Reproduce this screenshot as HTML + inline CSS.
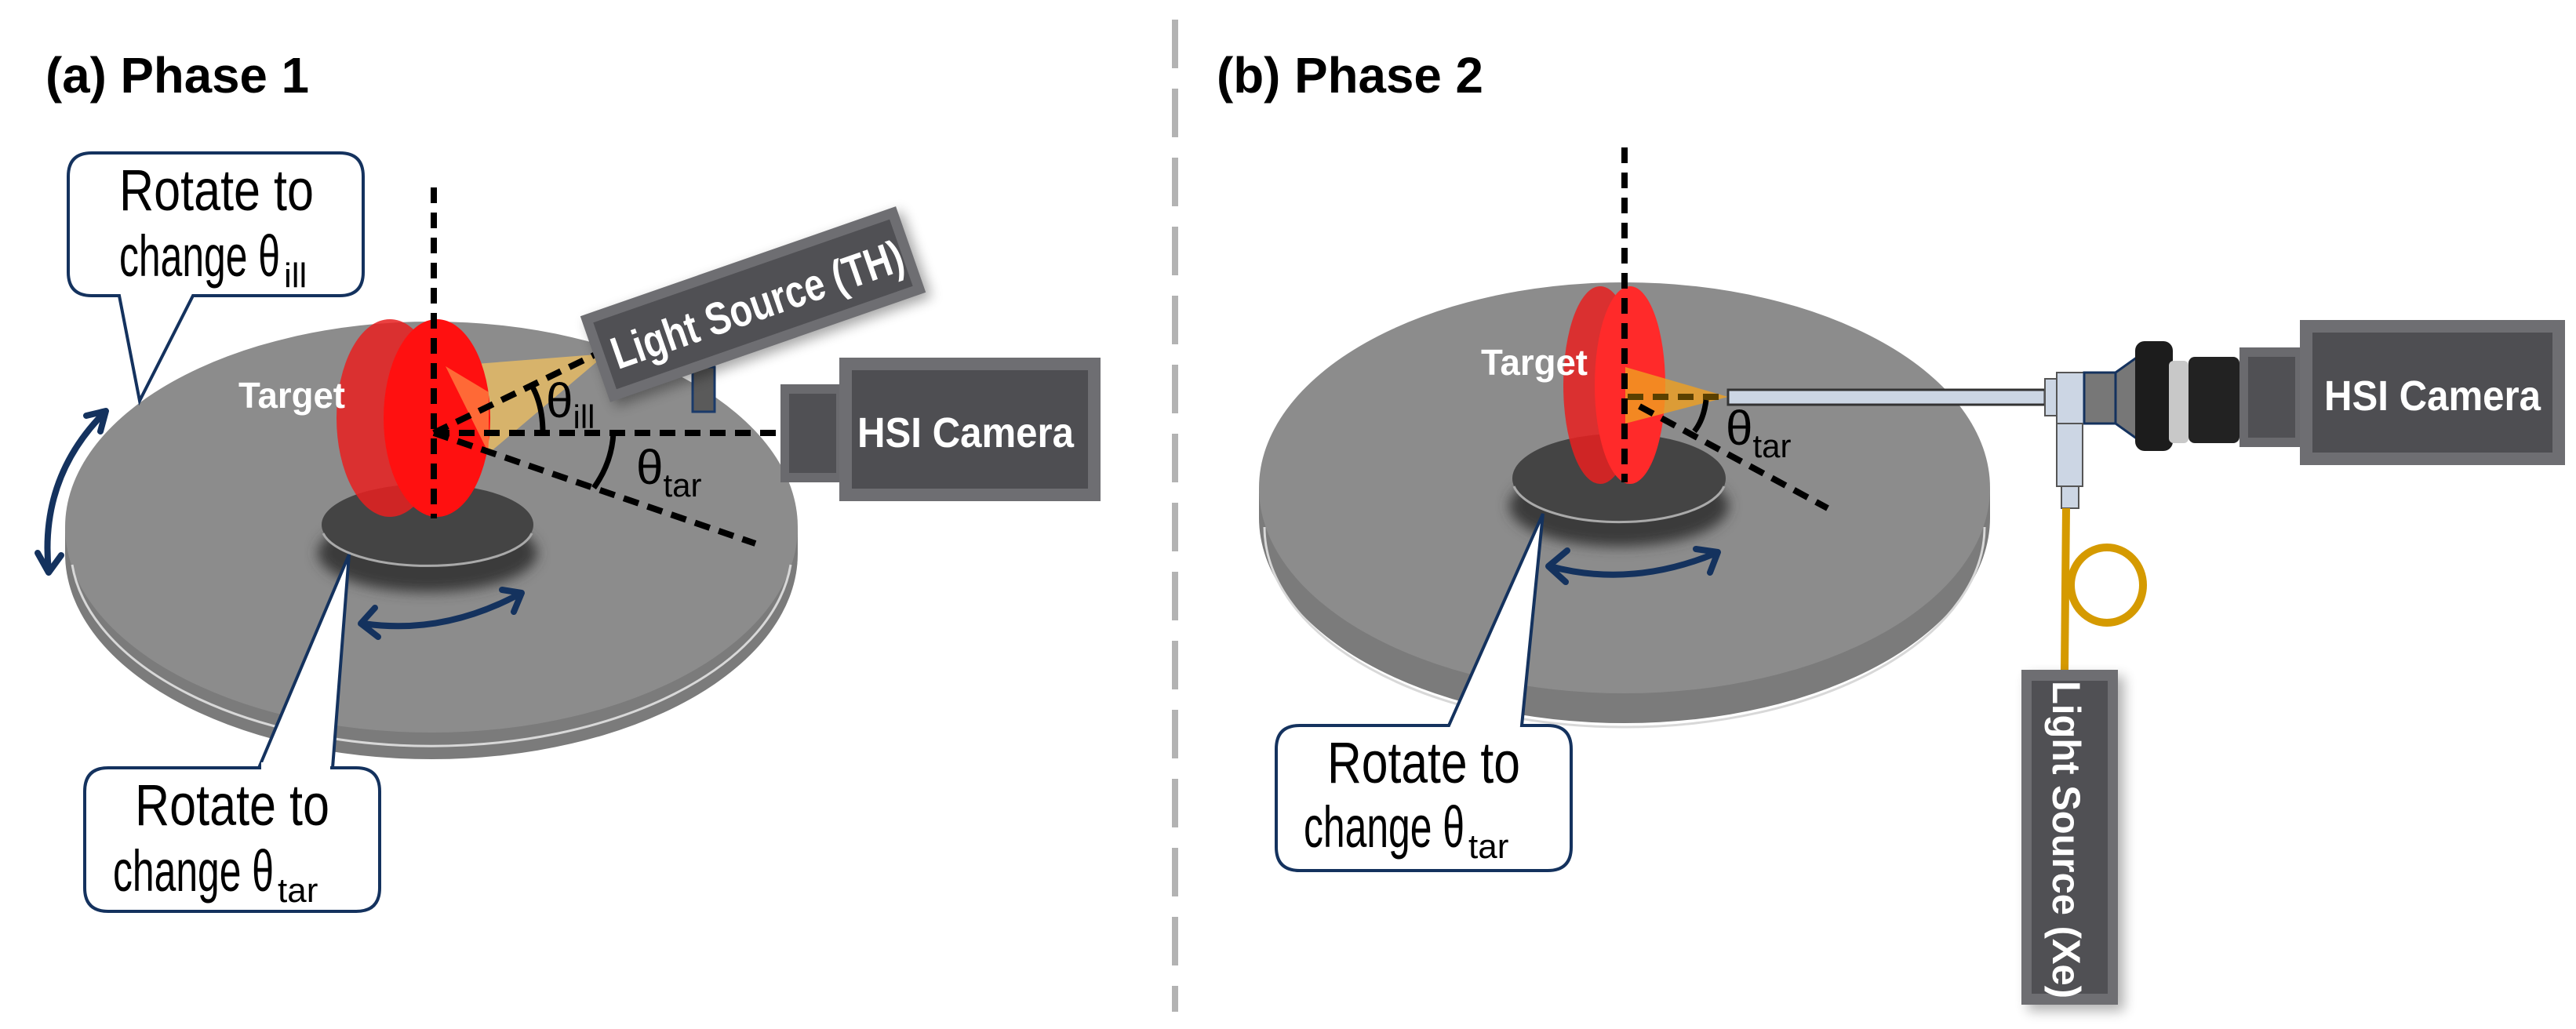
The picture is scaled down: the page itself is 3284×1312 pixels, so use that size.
<!DOCTYPE html>
<html><head><meta charset="utf-8"><style>
html,body{margin:0;padding:0;background:#fff}
svg{display:block}
text{font-family:"Liberation Sans",sans-serif}
</style></head><body>
<svg width="3284" height="1312" viewBox="0 0 3284 1312" xmlns="http://www.w3.org/2000/svg">
<defs>
<filter id="sh" x="-20%" y="-20%" width="140%" height="140%"><feGaussianBlur stdDeviation="8"/></filter>
</defs>

<text x="58" y="118" font-size="64" font-weight="bold" textLength="336" lengthAdjust="spacingAndGlyphs">(a) Phase 1</text>
<text x="1551" y="118" font-size="64" font-weight="bold" textLength="340" lengthAdjust="spacingAndGlyphs">(b) Phase 2</text>

<line x1="1498" y1="25" x2="1498" y2="1290" stroke="#b3b3b3" stroke-width="8" stroke-dasharray="62,26"/>

<!-- LEFT PANEL -->
<ellipse cx="550" cy="706" rx="467" ry="262" fill="#7b7b7b"/>
<rect x="83" y="672" width="934" height="34" fill="#7b7b7b"/>
<ellipse cx="550" cy="672" rx="467" ry="262" fill="#8c8c8c"/>
<path d="M 92 720 A 460 255 0 0 0 1008 720" fill="none" stroke="#d8d8d8" stroke-width="3"/>
<ellipse cx="545" cy="705" rx="140" ry="50" fill="#3a3a3a" filter="url(#sh)"/>
<ellipse cx="545" cy="669" rx="135" ry="52" fill="#444"/>
<path d="M 412 680 A 135 50 0 0 0 678 680" fill="none" stroke="#aaa" stroke-width="3"/>
<polygon points="568,467 760,452 760,462 623,578" fill="#f0c060" opacity="0.75"/>
<ellipse cx="497" cy="533" rx="68" ry="126" fill="#e82020" opacity="0.85"/>
<ellipse cx="557" cy="533" rx="68" ry="126" fill="#ff1010"/>
<polygon points="568,467 623,500 623,578" fill="#ff8040" opacity="0.8"/>
<text x="304" y="520" font-size="46" font-weight="bold" fill="#fff" textLength="136" lengthAdjust="spacingAndGlyphs">Target</text>
<g stroke="#000" stroke-width="8" stroke-dasharray="20,12" fill="none">
<line x1="553" y1="239" x2="553" y2="661"/>
<line x1="553" y1="552" x2="995" y2="552"/>
<line x1="553" y1="552" x2="963" y2="693"/>
<line x1="553" y1="552" x2="759" y2="452"/>
</g>
<path d="M 692 552 Q 692 515 677 490" fill="none" stroke="#000" stroke-width="7"/>
<path d="M 782 552 Q 780 590 757 622" fill="none" stroke="#000" stroke-width="7"/>
<text x="696" y="532" font-size="62">θ<tspan font-size="42" dy="14">ill</tspan></text>
<text x="811" y="617" font-size="62">θ<tspan font-size="42" dy="16">tar</tspan></text>
<rect x="883" y="468" width="28" height="57" fill="#5a5a5a" stroke="#1a3a6a" stroke-width="3"/>
<g transform="translate(960,388) rotate(-19.2)">
<rect x="-208" y="-50" width="426" height="116" fill="#000" opacity="0.35" filter="url(#sh)"/>
<rect x="-213" y="-58" width="426" height="116" fill="#6e6e72"/>
<rect x="-200" y="-45" width="400" height="90" fill="#505054"/>
<text x="-190" y="22" font-size="58" font-weight="bold" fill="#fff" textLength="390" lengthAdjust="spacingAndGlyphs">Light Source (TH)</text>
</g>
<rect x="995" y="490" width="78" height="125" fill="#6a6a6e"/>
<rect x="1006" y="502" width="60" height="101" fill="#505054"/>
<rect x="1070" y="456" width="333" height="183" fill="#6e6e72"/>
<rect x="1086" y="472" width="301" height="151" fill="#4e4e52"/>
<text x="1093" y="570" font-size="54" font-weight="bold" fill="#fff" textLength="276" lengthAdjust="spacingAndGlyphs">HSI Camera</text>
<g fill="none" stroke="#14325e" stroke-width="8" stroke-linecap="round" stroke-linejoin="round">
<path d="M 133 526 Q 50 610 62 728"/>
<path d="M 110 530 L 135 524 L 128 550"/>
<path d="M 48 705 L 62 730 L 78 708"/>
<path d="M 463 795 Q 565 810 663 757"/>
<path d="M 478 775 L 460 795 L 482 812"/>
<path d="M 640 752 L 665 756 L 655 780"/>
</g>
<path d="M 117 195 H 433 Q 463 195 463 225 V 347 Q 463 377 433 377 H 246 L 178 511 L 152 377 H 117 Q 87 377 87 347 V 225 Q 87 195 117 195 Z" fill="#fff" stroke="#14325e" stroke-width="4"/>
<text x="152" y="268" font-size="74" textLength="248" lengthAdjust="spacingAndGlyphs">Rotate to</text>
<text x="152" y="352" font-size="74" textLength="205" lengthAdjust="spacingAndGlyphs">change θ</text>
<text x="362" y="366" font-size="44">ill</text>
<path d="M 138 979 H 454 Q 484 979 484 1009 V 1132 Q 484 1162 454 1162 H 138 Q 108 1162 108 1132 V 1009 Q 108 979 138 979 H 330 L 445 707 L 424 979" fill="#fff" stroke="#14325e" stroke-width="4"/>
<rect x="333" y="972" width="88" height="10" fill="#fff"/>
<text x="172" y="1052" font-size="74" textLength="248" lengthAdjust="spacingAndGlyphs">Rotate to</text>
<text x="144" y="1136" font-size="74" textLength="205" lengthAdjust="spacingAndGlyphs">change θ</text>
<text x="354" y="1150" font-size="44">tar</text>

<!-- RIGHT PANEL -->
<ellipse cx="2071" cy="660" rx="466" ry="262" fill="#7b7b7b"/>
<rect x="1605" y="622" width="932" height="38" fill="#7b7b7b"/>
<ellipse cx="2071" cy="622" rx="466" ry="262" fill="#8c8c8c"/>
<path d="M 1612 672 A 459 255 0 0 0 2530 672" fill="none" stroke="#d8d8d8" stroke-width="3"/>
<ellipse cx="2064" cy="645" rx="140" ry="52" fill="#3a3a3a" filter="url(#sh)"/>
<ellipse cx="2064" cy="610" rx="136" ry="57" fill="#444"/>
<path d="M 1930 620 A 136 55 0 0 0 2198 620" fill="none" stroke="#aaa" stroke-width="3"/>
<ellipse cx="2040" cy="491" rx="47" ry="126" fill="#e82020" opacity="0.85"/>
<ellipse cx="2078" cy="491" rx="45" ry="126" fill="#ff2a2a"/>
<polygon points="2072,468 2203,506 2072,540" fill="#f0a020" opacity="0.8"/>
<text x="1888" y="478" font-size="46" font-weight="bold" fill="#fff" textLength="136" lengthAdjust="spacingAndGlyphs">Target</text>
<g stroke="#000" stroke-width="8" stroke-dasharray="20,12" fill="none">
<line x1="2071" y1="188" x2="2071" y2="615"/>
<line x1="2090" y1="518" x2="2330" y2="648"/>
</g>
<line x1="2075" y1="506" x2="2200" y2="506" stroke="#5a4000" stroke-width="8" stroke-dasharray="20,12"/>
<path d="M 2175 510 Q 2172 535 2160 550" fill="none" stroke="#000" stroke-width="7"/>
<text x="2200" y="567" font-size="62">θ<tspan font-size="42" dy="16">tar</tspan></text>
<rect x="2203" y="497" width="404" height="19" fill="#ccd6e4" stroke="#333" stroke-width="3"/>
<rect x="2607" y="483" width="15" height="47" fill="#ccd6e4" stroke="#555" stroke-width="2"/>
<rect x="2622" y="475" width="35" height="65" fill="#ccd6e4" stroke="#555" stroke-width="2"/>
<rect x="2657" y="475" width="40" height="65" fill="#777" stroke="#14325e" stroke-width="3"/>
<polygon points="2697,475 2725,455 2725,560 2697,540" fill="#777" stroke="#14325e" stroke-width="3"/>
<rect x="2722" y="435" width="48" height="140" rx="12" fill="#1c1c1c"/>
<rect x="2765" y="460" width="25" height="105" rx="6" fill="#c8c8c8"/>
<rect x="2790" y="455" width="65" height="110" rx="8" fill="#222"/>
<rect x="2622" y="540" width="33" height="80" fill="#ccd6e4" stroke="#555" stroke-width="2"/>
<rect x="2628" y="620" width="22" height="28" fill="#ccd6e4" stroke="#555" stroke-width="2"/>
<path d="M 2634 648 L 2632 854" fill="none" stroke="#d59a00" stroke-width="10"/>
<ellipse cx="2686" cy="746" rx="46" ry="48" fill="none" stroke="#d59a00" stroke-width="10"/>
<rect x="2855" y="443" width="77" height="127" fill="#6a6a6e"/>
<rect x="2866" y="455" width="60" height="103" fill="#505054"/>
<rect x="2932" y="408" width="338" height="185" fill="#6e6e72"/>
<rect x="2948" y="424" width="306" height="153" fill="#4e4e52"/>
<text x="2963" y="523" font-size="54" font-weight="bold" fill="#fff" textLength="276" lengthAdjust="spacingAndGlyphs">HSI Camera</text>
<rect x="2585" y="862" width="123" height="427" fill="#000" opacity="0.3" filter="url(#sh)"/>
<rect x="2577" y="854" width="123" height="427" fill="#6e6e72"/>
<rect x="2590" y="868" width="97" height="399" fill="#505054"/>
<text transform="translate(2617,868) rotate(90)" x="0" y="0" font-size="50" font-weight="bold" fill="#fff" textLength="405" lengthAdjust="spacingAndGlyphs">Light Source (Xe)</text>
<g fill="none" stroke="#14325e" stroke-width="8" stroke-linecap="round" stroke-linejoin="round">
<path d="M 1976 722 Q 2080 750 2188 705"/>
<path d="M 1998 702 L 1974 722 L 1996 742"/>
<path d="M 2162 700 L 2190 704 L 2180 730"/>
</g>
<path d="M 1657 925 H 1847 L 1967 655 L 1940 925 H 1973 Q 2003 925 2003 955 V 1080 Q 2003 1110 1973 1110 H 1657 Q 1627 1110 1627 1080 V 955 Q 1627 925 1657 925 Z" fill="#fff" stroke="#14325e" stroke-width="4"/>
<text x="1692" y="998" font-size="74" textLength="246" lengthAdjust="spacingAndGlyphs">Rotate to</text>
<text x="1662" y="1080" font-size="74" textLength="205" lengthAdjust="spacingAndGlyphs">change θ</text>
<text x="1872" y="1094" font-size="44">tar</text>
</svg>
</body></html>
